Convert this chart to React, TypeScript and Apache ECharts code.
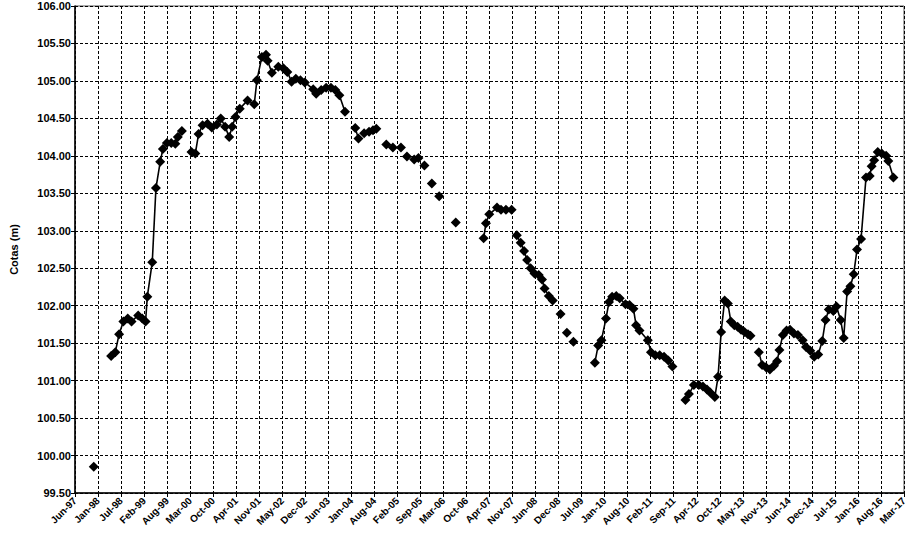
import React, { useEffect, useRef } from "react";
import * as echarts from "echarts";

// Measurement dates (null level = break in the line, as blank cells in the sheet)
const dates: string[] = [
  "1997-11-29", "1998-02-01",
  "1998-04-29", "1998-06-04", "1998-07-07", "1998-08-13", "1998-09-20", "1998-10-23",
  "1998-12-20", "1999-01-24", "1999-02-22", "1999-03-09", "1999-04-21", "1999-05-23",
  "1999-06-29", "1999-07-22", "1999-08-26", "1999-10-03", "1999-11-07", "1999-11-29",
  "2000-01-03", "2000-02-15",
  "2000-03-27", "2000-04-29", "2000-05-27", "2000-07-01", "2000-08-13", "2000-09-19",
  "2000-11-02", "2000-12-06", "2001-01-13", "2001-02-17", "2001-03-15", "2001-04-13",
  "2001-05-20", "2001-07-27", "2001-09-23", "2001-10-16", "2001-11-28", "2002-01-03",
  "2002-01-17", "2002-02-23", "2002-04-20", "2002-06-03", "2002-07-07", "2002-08-13",
  "2002-09-19", "2002-10-29", "2002-12-06", "2003-02-17", "2003-03-15", "2003-04-27",
  "2003-06-09", "2003-07-21", "2003-08-28", "2003-10-02", "2003-11-20", "2004-01-01",
  "2004-02-17", "2004-03-16", "2004-04-10",
  "2004-05-04", "2004-06-16", "2004-07-20", "2004-08-18", "2004-10-01",
  "2004-11-13", "2004-12-10", "2005-01-09", "2005-02-10", "2005-03-20", "2005-04-15",
  "2005-05-11", "2005-06-10", "2005-07-13", "2005-08-19", "2005-09-15", "2005-10-10",
  "2005-11-10", "2005-12-13", "2006-01-15", "2006-02-15", "2006-04-15", "2006-07-09",
  "2006-10-01",
  "2007-03-08", "2007-03-28", "2007-04-26", "2007-07-02", "2007-08-06", "2007-09-18",
  "2007-11-06", "2007-11-30",
  "2007-12-21", "2008-01-24", "2008-02-22", "2008-03-20", "2008-04-19", "2008-05-23",
  "2008-06-29", "2008-07-27", "2008-08-18", "2008-09-24", "2008-10-28", "2008-12-01",
  "2009-01-04", "2009-02-01", "2009-02-28", "2009-04-01", "2009-04-26", "2009-07-01",
  "2009-10-29", "2009-11-27", "2009-12-25", "2010-02-03", "2010-03-01", "2010-03-28",
  "2010-05-03", "2010-06-02", "2010-07-22", "2010-08-26", "2010-09-29", "2010-10-22",
  "2010-11-21", "2011-02-01", "2011-02-28", "2011-04-07", "2011-05-15", "2011-06-22",
  "2011-07-29", "2011-09-03", "2011-10-15",
  "2011-12-25", "2012-01-24", "2012-03-07", "2012-04-19", "2012-05-25", "2012-06-29",
  "2012-07-27", "2012-09-05", "2012-10-03", "2012-10-30", "2012-11-29", "2012-12-27",
  "2013-01-22", "2013-02-21", "2013-03-22", "2013-04-21", "2013-05-21", "2013-06-20",
  "2013-07-12", "2013-08-15",
  "2013-09-22", "2013-10-21", "2013-11-23", "2013-12-27", "2014-02-01", "2014-02-28",
  "2014-03-20", "2014-04-19", "2014-05-21", "2014-06-20", "2014-07-24", "2014-08-28",
  "2014-10-08", "2014-11-06", "2014-12-13", "2015-01-16", "2015-02-20", "2015-03-27",
  "2015-04-25", "2015-05-23", "2015-07-01", "2015-07-28", "2015-09-03", "2015-09-29",
  "2015-10-29", "2015-11-27", "2015-12-25", "2016-01-23", "2016-02-27", "2016-04-10",
  "2016-05-12", "2016-05-29", "2016-06-20", "2016-07-21", "2016-08-25", "2016-10-02",
  "2016-10-21", "2016-12-04",
];

// Water level (Cotas, m)
const levels: (number | null)[] = [
  99.85, null,
  101.33, 101.38, 101.62, 101.79, 101.83, 101.79,
  101.87, 101.83, 101.79, 102.12, 102.58, 103.57,
  103.92, 104.09, 104.17, 104.17, 104.16, 104.25,
  104.33, null,
  104.05, 104.03, 104.29, 104.41, 104.43, 104.38,
  104.42, 104.50, 104.39, 104.25, 104.39, 104.52,
  104.63, 104.74, 104.69, 105.01, 105.32, 105.35,
  105.27, 105.11, 105.19, 105.17, 105.12, 104.99,
  105.03, 105.01, 104.98, 104.89, 104.83, 104.88,
  104.91, 104.91, 104.88, 104.81, 104.59, null,
  104.37, 104.23, null,
  104.30, 104.32, 104.34, 104.36, null,
  104.15, null, 104.11, null, 104.11, null,
  103.99, null, 103.95, 103.97, null, 103.87,
  null, 103.63, null, 103.46, null, 103.11,
  null,
  102.90, 103.10, 103.22, 103.31, 103.28, 103.28,
  103.28, null,
  102.94, 102.84, 102.73, 102.61, 102.50, 102.43,
  102.41, 102.35, 102.23, 102.13, 102.07, null,
  101.89, null, 101.64, null, 101.52, null,
  101.24, 101.47, 101.54, 101.83, 102.05, 102.12,
  102.13, 102.10, 102.02, 102.01, 101.96, 101.74,
  101.67, 101.54, 101.38, 101.34, 101.34, 101.32,
  101.27, 101.19, null,
  100.74, 100.82, 100.94, 100.94, 100.92, 100.88,
  100.84, 100.78, 101.05, 101.65, 102.07, 102.03,
  101.79, 101.74, 101.72, 101.68, 101.65, 101.62,
  101.60, null,
  101.38, 101.21, 101.18, 101.15, 101.20, 101.26,
  101.41, 101.61, 101.67, 101.68, 101.63, 101.61,
  101.54, 101.45, 101.40, 101.32, 101.35, 101.53,
  101.81, 101.95, 101.93, 101.99, 101.81, 101.57,
  102.19, 102.26, 102.42, 102.75, 102.89, 103.71,
  103.73, 103.86, 103.94, 104.05, 104.03, 104.00,
  103.93, 103.71,
];

// Date axis: Excel-style day serials, major unit 200 days
const axisStart = "1997-06-19";
const axisEnd = "2017-03-06";
const axisStepDays = 200;

const yMin = 99.5;
const yMax = 106;
const yStep = 0.5;

const MONTHS = ["Jan", "Feb", "Mar", "Apr", "May", "Jun", "Jul", "Aug", "Sep", "Oct", "Nov", "Dec"];
const EPOCH = Date.UTC(1899, 11, 30);
const DAY = 86400000;

function toSerial(s: string): number {
  const [y, m, d] = s.split("-").map(Number);
  return Math.round((Date.UTC(y, m - 1, d) - EPOCH) / DAY);
}
function serialLabel(v: number): string {
  const d = new Date(EPOCH + Math.round(v) * DAY);
  const yy = String(d.getUTCFullYear() % 100).padStart(2, "0");
  return MONTHS[d.getUTCMonth()] + "-" + yy;
}

const FONT = "'Liberation Sans', Arial, sans-serif";

export default function App() {
  const ref = useRef<HTMLDivElement>(null);
  useEffect(() => {
    if (!ref.current) return;
    const chart = echarts.init(ref.current, undefined, { renderer: "svg" });
    const data = dates.map((d, i) => [toSerial(d), levels[i] === null ? "-" : levels[i]]);
    chart.setOption({
      animation: false,
      backgroundColor: "#ffffff",
      grid: {
        left: 66,
        right: 8,
        top: 6,
        bottom: 44,
        show: true,
        borderColor: "#555",
        borderWidth: 1,
        backgroundColor: "transparent",
      },
      xAxis: {
        type: "value",
        min: toSerial(axisStart),
        max: toSerial(axisEnd),
        interval: axisStepDays,
        axisLine: { show: true, onZero: false, lineStyle: { color: "#000", width: 1.5 } },
        axisTick: { show: true, length: 4, lineStyle: { color: "#000" } },
        splitLine: { show: true, lineStyle: { color: "#000", type: [3, 2], width: 1 } },
        axisLabel: {
          rotate: 45,
          fontSize: 10,
          fontWeight: "bold",
          fontFamily: FONT,
          color: "#000",
          margin: 6,
          showMinLabel: true,
          showMaxLabel: true,
          formatter: (v: number) => serialLabel(v),
        },
      },
      yAxis: {
        type: "value",
        min: yMin,
        max: yMax,
        interval: yStep,
        name: "Cotas (m)",
        nameLocation: "middle",
        nameGap: 56,
        nameTextStyle: { fontSize: 11, fontWeight: "bold", fontFamily: FONT, color: "#000" },
        axisLine: { show: true, lineStyle: { color: "#000", width: 1.5 } },
        axisTick: { show: true, length: 4, lineStyle: { color: "#000" } },
        splitLine: { show: true, lineStyle: { color: "#000", type: [3, 2], width: 1 } },
        axisLabel: {
          fontSize: 11,
          fontWeight: "bold",
          fontFamily: FONT,
          color: "#000",
          margin: 4,
          formatter: (v: number) => v.toFixed(2),
        },
      },
      series: [
        {
          type: "line",
          data,
          connectNulls: false,
          showSymbol: true,
          showAllSymbol: true,
          symbol: "diamond",
          symbolSize: 10,
          itemStyle: { color: "#000" },
          lineStyle: { color: "#000", width: 1.6 },
          z: 5,
        },
      ],
    });
    return () => chart.dispose();
  }, []);
  return (
    <div
      ref={ref}
      style={{ position: "fixed", left: 0, top: 0, width: 912, height: 537, background: "#fff" }}
    />
  );
}
